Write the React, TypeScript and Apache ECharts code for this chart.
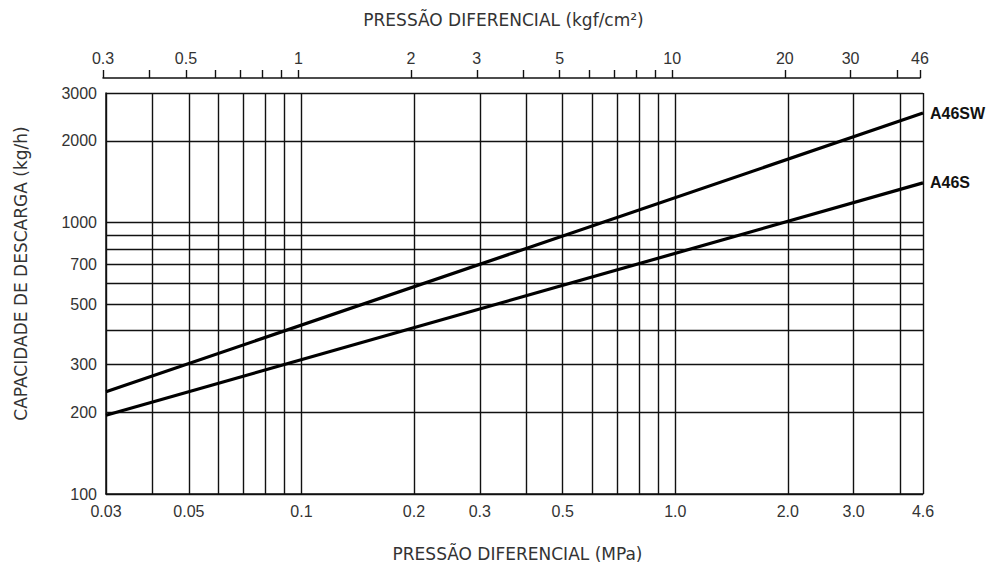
import React, { useEffect, useRef } from "react";
import * as echarts from "echarts";

// Bottom axis (MPa)
const mpaTicks = [0.03, 0.04, 0.05, 0.06, 0.07, 0.08, 0.09, 0.1, 0.2, 0.3, 0.4, 0.5, 0.6, 0.7, 0.8, 0.9, 1.0, 2.0, 3.0, 4.0, 4.6];
const mpaLabels = ["0.03", "0.05", "0.1", "0.2", "0.3", "0.5", "1.0", "2.0", "3.0", "4.6"];
// Top axis (kgf/cm²)
const kgfTicks = [0.3, 0.4, 0.5, 0.6, 0.7, 0.8, 0.9, 1, 2, 3, 4, 5, 6, 7, 8, 9, 10, 20, 30, 40, 46];
const kgfLabels = ["0.3", "0.5", "1", "2", "3", "5", "10", "20", "30", "46"];
// Y axis (kg/h)
const capTicks = [100, 200, 300, 400, 500, 600, 700, 800, 900, 1000, 2000, 3000];
const capLabels = ["100", "200", "300", "500", "700", "1000", "2000", "3000"];

// Series (pressure MPa, capacity kg/h)
const a46swPressure = [0.03, 4.6];
const a46swCapacity = [238, 2530];
const a46sPressure = [0.03, 4.6];
const a46sCapacity = [195, 1400];

const TICK_FONT = "'Liberation Sans', Arial, sans-serif";
const TITLE_FONT = "'DejaVu Sans', Verdana, sans-serif";

function findLabel(labels: string[], v: number) {
  const l = labels.find((s) => Math.abs(parseFloat(s) - v) < 1e-9 * Math.max(1, v));
  return l ?? "";
}

export default function App() {
  const ref = useRef<HTMLDivElement>(null);
  useEffect(() => {
    document.body.style.margin = "0";
    if (!ref.current) return;
    const chart = echarts.init(ref.current, undefined, { renderer: "svg" });
    const gridColor = "#111";
    const option: any = {
      animation: false,
      backgroundColor: "#ffffff",
      grid: [
        { left: 106, right: 68, top: 93, bottom: 68, containLabel: false, outerBoundsMode: "none" },
        { left: 103, right: 71, top: 77, height: 1, containLabel: false, outerBoundsMode: "none" },
      ],
      xAxis: [
        {
          type: "log",
          gridIndex: 0,
          min: 0.03,
          max: 4.6,
          position: "bottom",
          axisLine: { show: true, lineStyle: { color: gridColor, width: 1.5 } },
          axisTick: { show: false, customValues: mpaTicks },
          axisLabel: {
            customValues: mpaLabels.map((s) => parseFloat(s)),
            formatter: (v: number) => findLabel(mpaLabels, v),
            fontFamily: TICK_FONT,
            fontSize: 16,
            color: "#333",
            margin: 9,
          },
          splitLine: { show: true, lineStyle: { color: gridColor, width: 1.4 } },
          minorSplitLine: { show: false },
          name: "PRESSÃO DIFERENCIAL (MPa)",
          nameLocation: "middle",
          nameGap: 51,
          nameTextStyle: { fontFamily: TITLE_FONT, fontSize: 17, color: "#333", padding: [0, 0, 0, 6] },
        },
        {
          type: "log",
          gridIndex: 1,
          min: 0.3,
          max: 46,
          position: "top",
          axisLine: { show: true, lineStyle: { color: gridColor, width: 1.5 } },
          axisTick: { show: true, customValues: kgfTicks, length: 8, inside: false, lineStyle: { color: gridColor, width: 1.4 } },
          axisLabel: {
            customValues: kgfLabels.map((s) => parseFloat(s)),
            formatter: (v: number) => findLabel(kgfLabels, v),
            fontFamily: TICK_FONT,
            fontSize: 16,
            color: "#333",
            margin: 11,
          },
          splitLine: { show: false },
          name: "PRESSÃO DIFERENCIAL (kgf/cm²)",
          nameLocation: "middle",
          nameGap: 49,
          nameTextStyle: { fontFamily: TITLE_FONT, fontSize: 17, color: "#333", padding: [0, 16, 0, 0] },
        },
      ],
      yAxis: [
        {
          type: "log",
          gridIndex: 0,
          min: 100,
          max: 3000,
          axisLine: { show: true, lineStyle: { color: gridColor, width: 1.5 } },
          axisTick: { show: false, customValues: capTicks },
          axisLabel: {
            customValues: capLabels.map((s) => parseFloat(s)),
            formatter: (v: number) => findLabel(capLabels, v),
            fontFamily: TICK_FONT,
            fontSize: 16,
            color: "#333",
            margin: 9,
          },
          splitLine: { show: true, lineStyle: { color: gridColor, width: 1.4 } },
          name: "CAPACIDADE DE DESCARGA (kg/h)",
          nameLocation: "middle",
          nameGap: 77,
          nameRotate: 90,
          nameTextStyle: { fontFamily: TITLE_FONT, fontSize: 17, color: "#333", padding: [0, 0, 0, 40] },
        },
        { type: "value", gridIndex: 1, show: false, min: 0, max: 1 },
      ],
      series: [
        {
          name: "A46SW",
          type: "line",
          xAxisIndex: 0,
          yAxisIndex: 0,
          data: a46swPressure.map((p, i) => [p, a46swCapacity[i]]),
          showSymbol: false,
          symbol: "none",
          lineStyle: { color: "#000", width: 3.2 },
          endLabel: {
            show: true,
            formatter: "{a}",
            fontFamily: TICK_FONT,
            fontWeight: "bold",
            fontSize: 16,
            color: "#111",
            distance: 7,
          },
          z: 5,
        },
        {
          name: "A46S",
          type: "line",
          xAxisIndex: 0,
          yAxisIndex: 0,
          data: a46sPressure.map((p, i) => [p, a46sCapacity[i]]),
          showSymbol: false,
          symbol: "none",
          lineStyle: { color: "#000", width: 3.2 },
          endLabel: {
            show: true,
            formatter: "{a}",
            fontFamily: TICK_FONT,
            fontWeight: "bold",
            fontSize: 16,
            color: "#111",
            distance: 7,
          },
          z: 5,
        },
        {
          name: "kgf",
          type: "line",
          xAxisIndex: 1,
          yAxisIndex: 1,
          data: [],
          silent: true,
        },
      ],
    };
    chart.setOption(option);
    return () => chart.dispose();
  }, []);
  return <div ref={ref} style={{ width: 991, height: 562 }} />;
}
